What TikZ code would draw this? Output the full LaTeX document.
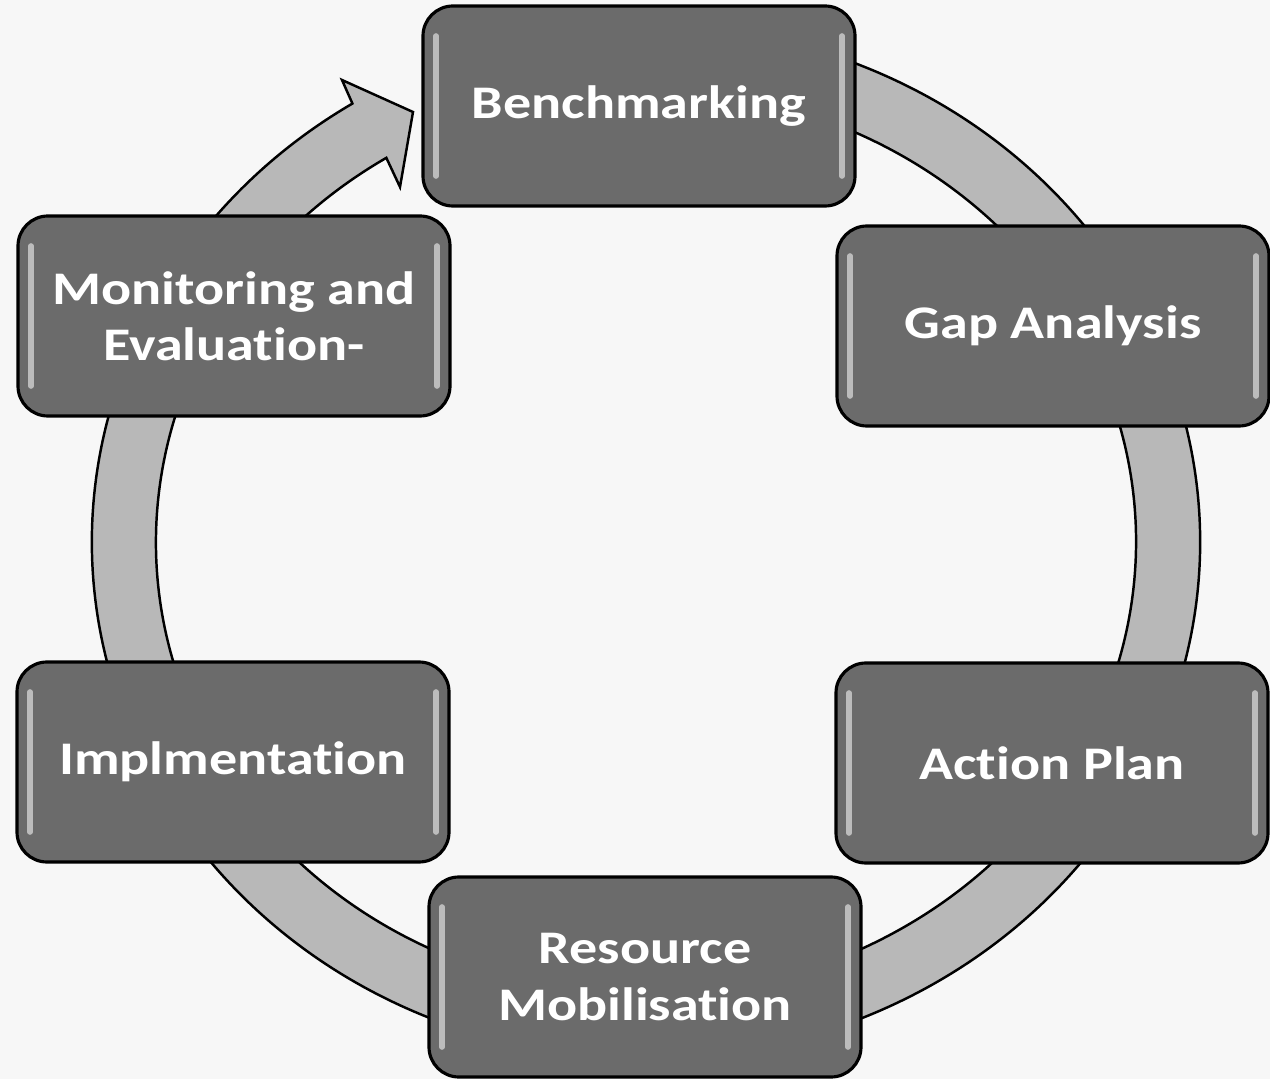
\documentclass[tikz,border=0pt]{standalone}
\usepackage{fontspec}
\setmainfont{Carlito}[FakeStretch=1.2, Ligatures=NoCommon]
\usepackage{tikz}
\usetikzlibrary{calc,positioning}

\newcommand{\stagefont}{\fontsize{13.3}{16}\selectfont\bfseries}

\begin{document}
\begin{tikzpicture}[
        every path/.style={thin},
        stage/.style={draw=black, line width=0.9pt, rounded corners=0.3cm, fill=black!58,
            text=white, font=\stagefont, align=center, inner sep=0pt,
            minimum width=4.32cm, minimum height=2cm,
            path picture={
                \draw[white, opacity=0.55, line width=1.6pt, line cap=round]
                    ([xshift=0.13cm, yshift=0.3cm]path picture bounding box.south west) --
                    ([xshift=0.13cm, yshift=-0.3cm]path picture bounding box.north west);
                \draw[white, opacity=0.55, line width=1.6pt, line cap=round]
                    ([xshift=-0.13cm, yshift=0.3cm]path picture bounding box.south east) --
                    ([xshift=-0.13cm, yshift=-0.3cm]path picture bounding box.north east);
            }},
        ring/.style={fill=black!28, draw=black, line width=0.7pt, line join=miter}
    ]

    % Page
    \fill[black!3] (0,0) rectangle (12.7,10.79);
    \useasboundingbox (0,0) rectangle (12.7,10.79);

    % Cycle ring with arrow head
    \coordinate (hub) at (6.46,5.37);
    \coordinate (barbout) at (3.42,9.99);
    \coordinate (tip) at (4.13,9.67);
    \coordinate (barbin) at (4.00,8.92);
    \path[ring] ($(hub)+(70:5.54 and 5.17)$)
        arc[start angle=70, end angle=-238, x radius=5.54, y radius=5.17]
        -- (barbout) -- (tip) -- (barbin)
        -- ($(hub)+(122:4.90 and 4.53)$)
        arc[start angle=122, end angle=430, x radius=4.90, y radius=4.53]
        -- cycle;

    % Nodes
    \node[stage] (bench) at (6.39,9.73) {Benchmarking};
    \node[stage] (gap) at (10.53,7.53) {Gap Analysis};
    \node[stage] (action) at (10.52,3.16) {Action Plan};
    \node[stage] (resource) at (6.45,1.02) {Resource\\Mobilisation};
    \node[stage] (implement) at (2.33,3.17) {Implmentation};
    \node[stage] (monitor) at (2.34,7.63) {Monitoring and\\Evaluation-};

\end{tikzpicture}
\end{document}
